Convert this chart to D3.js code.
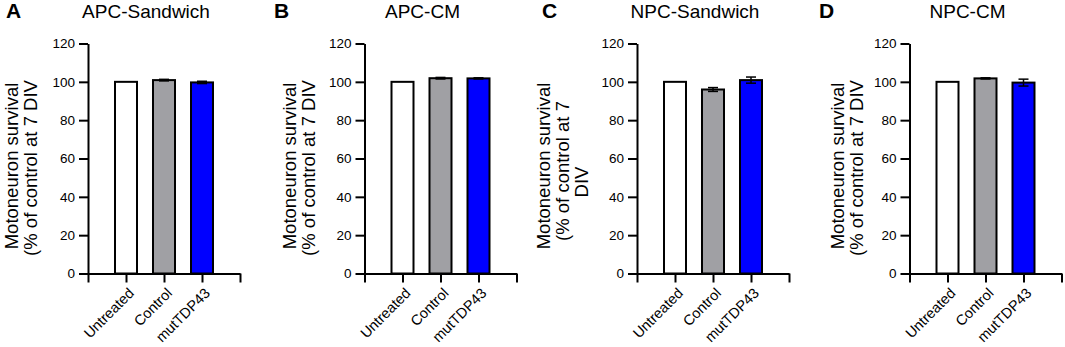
<!DOCTYPE html>
<html>
<head>
<meta charset="utf-8">
<script src="https://cdn.jsdelivr.net/npm/d3@7"></script>
<style>
  body { margin: 0; background: #fff; }
  svg { font-family: "Liberation Sans", Arial, sans-serif; }
</style>
</head>
<body>
<div id="chart"></div>
<script>
// data
var categories = ["Untreated", "Control", "mutTDP43"];
var barColors = ["#ffffff", "#a0a0a4", "#0000ff"];
var yTicks = [0, 20, 40, 60, 80, 100, 120];

var panelLetters = ["A", "B", "C", "D"];
var panelTitles = ["APC-Sandwich", "APC-CM", "NPC-Sandwich", "NPC-CM"];

var meansA = [100, 100.9, 99.7];
var errsA  = [0, 0.4, 0.6];
var meansB = [100, 101.9, 101.8];
var errsB  = [0, 0.4, 0.3];
var meansC = [100, 96.0, 100.9];
var errsC  = [0, 1.0, 1.6];
var meansD = [100, 101.8, 99.6];
var errsD  = [0, 0.3, 1.8];

var yLabelShort = ["Motoneuron survival", "(% of control at 7 DIV"];
var yLabelLong = ["Motoneuron survival", "(% of control at 7", "DIV"];

var allMeans = [meansA, meansB, meansC, meansD];
var allErrs = [errsA, errsB, errsC, errsD];
var allLabels = [yLabelShort, yLabelShort, yLabelLong, yLabelShort];

// layout
var w = 1065, h = 347;
var axisXs = [88, 364.5, 637, 909.5];
var letterXs = [6, 274, 542, 819];
var labelXs = [18, 296, 550, 844];
var plotW = 152;
var yTop = 43.5, yBot = 273.5;

var svg = d3.select("#chart")
  .append("svg")
  .attr("width", w)
  .attr("height", h);

var yScale = d3.scaleLinear().domain([0, 120]).range([yBot, yTop]);
var xScale = d3.scaleLinear().domain([0, 4]).range([0, plotW]);

panelTitles.forEach(function(title, p) {
  var g = svg.append("g")
    .attr("transform", "translate(" + axisXs[p] + ",0)");

  // panel letter
  svg.append("text")
    .attr("x", letterXs[p])
    .attr("y", 18)
    .attr("font-size", 21)
    .attr("font-weight", "bold")
    .text(panelLetters[p]);

  // title
  g.append("text")
    .attr("x", 58)
    .attr("y", 18)
    .attr("text-anchor", "middle")
    .attr("font-size", 19)
    .text(title);

  // bars
  var means = allMeans[p], errs = allErrs[p];
  g.selectAll("rect.bar")
    .data(categories)
    .enter()
    .append("rect")
      .attr("class", "bar")
      .attr("x", function(d, i) { return xScale(i + 1) - 11; })
      .attr("y", function(d, i) { return yScale(means[i]); })
      .attr("width", 22)
      .attr("height", function(d, i) { return yBot - yScale(means[i]); })
      .attr("fill", function(d, i) { return barColors[i]; })
      .attr("stroke", "#000")
      .attr("stroke-width", 2);

  // error bars
  var eb = g.selectAll("g.err")
    .data(categories)
    .enter()
    .append("g")
      .attr("class", "err")
      .filter(function(d, i) { return errs[i] > 0; });
  eb.append("line")
    .attr("x1", function(d) { return xScale(categories.indexOf(d) + 1); })
    .attr("x2", function(d) { return xScale(categories.indexOf(d) + 1); })
    .attr("y1", function(d) { var i = categories.indexOf(d); return yScale(means[i] - errs[i]); })
    .attr("y2", function(d) { var i = categories.indexOf(d); return yScale(means[i] + errs[i]); })
    .attr("stroke", "#000").attr("stroke-width", 1.5);
  [-1, 1].forEach(function(s) {
    eb.append("line")
      .attr("x1", function(d) { return xScale(categories.indexOf(d) + 1) - 5; })
      .attr("x2", function(d) { return xScale(categories.indexOf(d) + 1) + 5; })
      .attr("y1", function(d) { var i = categories.indexOf(d); return yScale(means[i] + s * errs[i]); })
      .attr("y2", function(d) { var i = categories.indexOf(d); return yScale(means[i] + s * errs[i]); })
      .attr("stroke", "#000").attr("stroke-width", 1.5);
  });

  // y axis
  var yAxis = d3.axisLeft(yScale)
    .tickValues(yTicks)
    .tickSize(9)
    .tickSizeOuter(0)
    .tickPadding(4);
  var ya = g.append("g").attr("class", "yAxis").call(yAxis);

  // x axis
  var xAxis = d3.axisBottom(xScale)
    .tickValues([0, 1, 2, 3, 4])
    .tickFormat("")
    .tickSize(9)
    .tickSizeOuter(0);
  var xa = g.append("g")
    .attr("class", "xAxis")
    .attr("transform", "translate(0," + yBot + ")")
    .call(xAxis);

  [ya, xa].forEach(function(a) {
    a.selectAll("path, line").attr("stroke", "#000").attr("stroke-width", 2);
    a.selectAll("text").attr("font-size", 13.5).attr("fill", "#000")
      .attr("font-family", "Liberation Sans, Arial, sans-serif");
  });

  // x labels, rotated
  g.selectAll("text.xlab")
    .data(categories)
    .enter()
    .append("text")
      .attr("class", "xlab")
      .attr("text-anchor", "end")
      .attr("font-size", 14.5)
      .attr("transform", function(d, i) {
        return "translate(" + (xScale(i + 1) + 9) + ",294) rotate(-45)";
      })
      .text(function(d) { return d; });

  // y label
  var lines = allLabels[p];
  var centers = lines.length == 2 ? [166, 168] : [166, 171, 182];
  lines.forEach(function(line, k) {
    var lx = labelXs[p] + k * 19;
    svg.append("text")
      .attr("text-anchor", "middle")
      .attr("font-size", 18.5)
      .attr("transform", "translate(" + lx + "," + centers[k] + ") rotate(-90)")
      .text(line);
  });
});
</script>
</body>
</html>
